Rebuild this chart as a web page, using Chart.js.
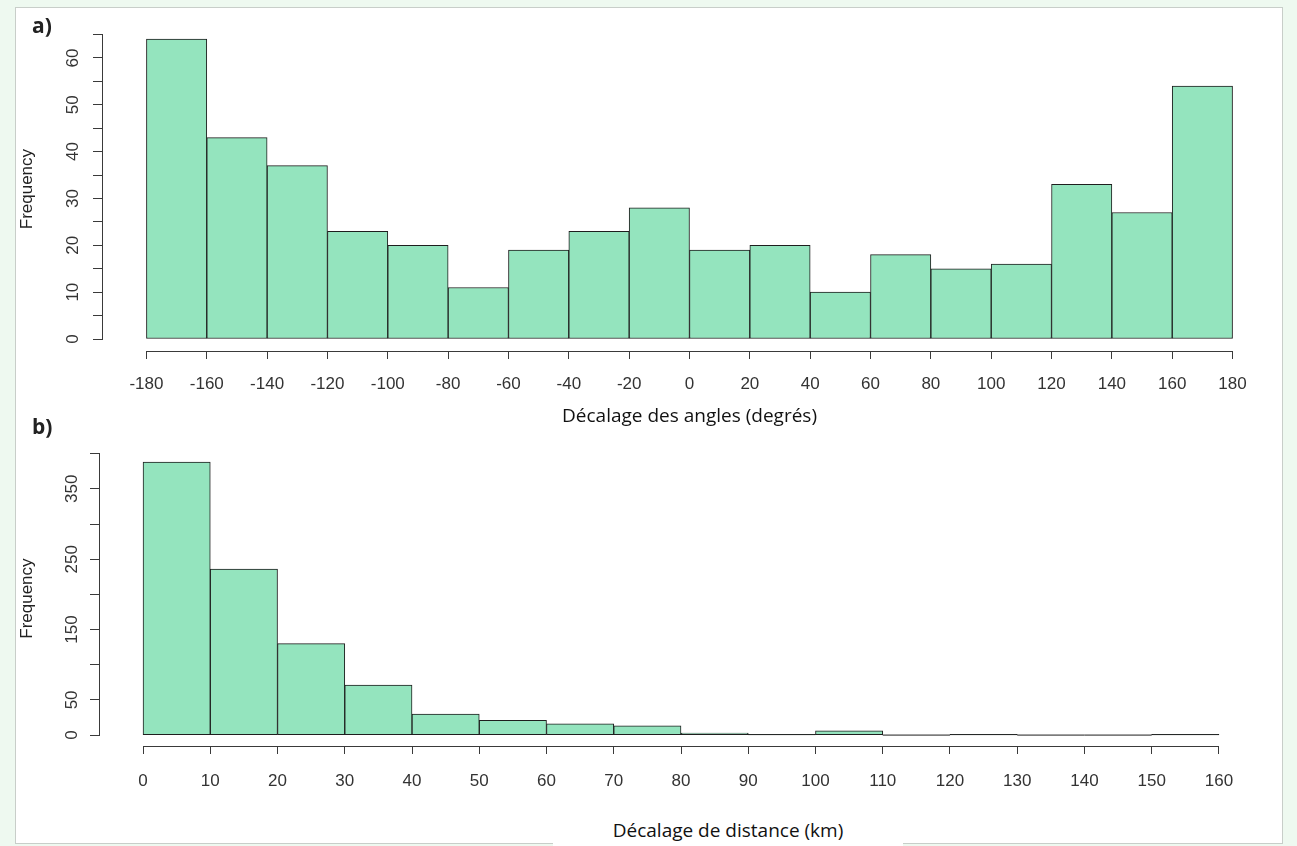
<!DOCTYPE html>
<html>
<head>
<meta charset="utf-8">
<script src="https://cdn.jsdelivr.net/npm/chart.js@4.4.1/dist/chart.umd.min.js"></script>
<style>
  body { margin: 0; background: #eef9f0; width: 1297px; height: 846px; overflow: hidden; position: relative; font-family: 'Liberation Sans', Arial, sans-serif; }
  #panel { position: absolute; left: 15px; top: 7px; width: 1266px; height: 835px; background: #fff; border: 1px solid #c8cec9; }
  .box { position: absolute; }
  .tag { position: absolute; font-family: 'Open Sans', sans-serif; font-weight: 700; font-size: 21px; color: #222; line-height: 1; }
  #xtitleB { position: absolute; left: 553px; top: 815px; width: 350px; height: 31px; background: #fff; text-align: center; font-family: 'Open Sans', sans-serif; font-size: 19px; line-height: 31px; color: #111; }
</style>
</head>
<body>
<div id="panel"></div>
<div class="box" style="left:15px; top:7px; width:1268px; height:430px;"><canvas id="histAngles"></canvas></div>
<div class="box" style="left:15px; top:437px; width:1268px; height:360px;"><canvas id="histDistance"></canvas></div>
<div class="tag" style="left:32px; top:15px;">a)</div>
<div class="tag" style="left:32px; top:416px;">b)</div>
<div id="xtitleB">Décalage de distance (km)</div>
<script>
// a) angle offset histogram
var angleBins = [-180, -160, -140, -120, -100, -80, -60, -40, -20, 0, 20, 40, 60, 80, 100, 120, 140, 160];
var angleCounts = [64, 43, 37, 23, 20, 11, 19, 23, 28, 19, 20, 10, 18, 15, 16, 33, 27, 54];
var angleXTicks = [-180, -160, -140, -120, -100, -80, -60, -40, -20, 0, 20, 40, 60, 80, 100, 120, 140, 160, 180];
var angleYTicks = [0, 5, 10, 15, 20, 25, 30, 35, 40, 45, 50, 55, 60, 65];
var angleYLabels = [0, 10, 20, 30, 40, 50, 60];

// b) distance offset histogram
var distBins = [0, 10, 20, 30, 40, 50, 60, 70, 80, 90, 100, 110, 120, 130, 140, 150];
var distCounts = [388, 236, 130, 71, 30, 21, 16, 13, 3, 1, 6, 0, 1, 0, 0, 1];
var distXTicks = [0, 10, 20, 30, 40, 50, 60, 70, 80, 90, 100, 110, 120, 130, 140, 150, 160];
var distYTicks = [0, 50, 100, 150, 200, 250, 300, 350, 400];
var distYLabels = [0, 50, 150, 250, 350];

var barFill = 'rgb(148, 228, 190)';
var barLine = '#1e1e1e';
var axisColor = '#3a3a3a';
var tickColor = '#333';

// R-style axes: lines only between the first and last tick, empty bins as a flat line
var rAxes = {
	id: 'rAxes',
	afterDatasetsDraw(chart) {
		let ctx = chart.ctx;
		let area = chart.chartArea;
		let x = chart.scales.x;
		let y = chart.scales.y;
		ctx.save();
		ctx.strokeStyle = axisColor;
		ctx.lineWidth = 1;
		ctx.beginPath();
		ctx.moveTo(x.getPixelForValue(x.ticks[0].value), Math.round(area.bottom) + 0.5);
		ctx.lineTo(x.getPixelForValue(x.ticks[x.ticks.length - 1].value), Math.round(area.bottom) + 0.5);
		ctx.moveTo(Math.round(area.left) - 0.5, y.getPixelForValue(y.ticks[0].value));
		ctx.lineTo(Math.round(area.left) - 0.5, y.getPixelForValue(y.ticks[y.ticks.length - 1].value));
		ctx.stroke();

		ctx.strokeStyle = barLine;
		chart.getDatasetMeta(0).data.forEach(function(bar) {
			if (Math.abs(bar.base - bar.y) < 1) {
				ctx.beginPath();
				ctx.moveTo(bar.x - bar.width / 2, bar.base);
				ctx.lineTo(bar.x + bar.width / 2, bar.base);
				ctx.stroke();
			}
		});
		ctx.restore();
	}
};

function histogram(canvasId, bins, counts, xTicks, yTicks, yLabels, layout) {
	let width = bins[1] - bins[0];
	let data = [];
	for (let i = 0; i < bins.length; i++) {
		data.push({x: bins[i] + width / 2, y: counts[i]});
	}
	let xLo = bins[0];
	let xHi = bins[bins.length - 1] + width;
	let yHi = Math.max.apply(null, counts);

	const config = {
		type: 'bar',
		data: {
			datasets: [{
				data: data,
				backgroundColor: barFill,
				borderColor: barLine,
				borderWidth: 1,
				borderSkipped: false,
				barPercentage: 1,
				categoryPercentage: 1
			}]
		},
		options: {
			animation: false,
			responsive: true,
			maintainAspectRatio: false,
			layout: {padding: layout.padding},
			plugins: {
				legend: {display: false},
				tooltip: {enabled: false}
			},
			scales: {
				x: {
					type: 'linear',
					offset: false,
					min: xLo - 0.04 * (xHi - xLo),
					max: xHi + 0.04 * (xHi - xLo),
					afterBuildTicks: function(scale) {
						scale.ticks = xTicks.map(v => ({value: v}));
					},
					afterFit: function(scale) {
						scale.height = layout.xHeight;
					},
					border: {display: false},
					grid: {offset: false, drawOnChartArea: false, drawTicks: true, tickLength: 8, color: axisColor},
					ticks: {
						autoSkip: false,
						maxRotation: 0,
						padding: layout.xPad,
						color: tickColor,
						font: {family: 'Liberation Sans', size: 17}
					},
					title: {
						display: !!layout.xTitle,
						text: layout.xTitle,
						color: '#111',
						font: {family: 'Open Sans', size: 19},
						padding: {top: 0, bottom: 9}
					}
				},
				y: {
					type: 'linear',
					min: -0.04 * yHi,
					max: yHi * 1.04,
					afterBuildTicks: function(scale) {
						scale.ticks = yTicks.map(v => ({value: v}));
					},
					afterFit: function(scale) {
						scale.width = layout.yWidth;
					},
					border: {display: false},
					grid: {offset: false, drawOnChartArea: false, drawTicks: true, tickLength: 10, color: axisColor},
					ticks: {
						autoSkip: false,
						minRotation: 90,
						maxRotation: 90,
						crossAlign: 'center',
						padding: layout.yPad,
						color: tickColor,
						font: {family: 'Liberation Sans', size: 17},
						callback: function(value) {
							return yLabels.includes(value) ? String(value) : '';
						}
					},
					title: {
						display: true,
						text: 'Frequency',
						color: '#222',
						font: {family: 'Liberation Sans', size: 17},
						padding: {top: 2, bottom: 0}
					}
				}
			}
		},
		plugins: [rAxes]
	};

	return new Chart(document.getElementById(canvasId), config);
}

var chartAngles = histogram('histAngles', angleBins, angleCounts, angleXTicks, angleYTicks, angleYLabels, {
	padding: {left: 0, right: 7, top: 16, bottom: 0},
	yWidth: 88,
	xHeight: 86,
	xPad: 15,
	yPad: 10,
	xTitle: 'Décalage des angles (degrés)'
});

var chartDistance = histogram('histDistance', distBins, distCounts, distXTicks, distYTicks, distYLabels, {
	padding: {left: 0, right: 21, top: 11, bottom: 0},
	yWidth: 85,
	xHeight: 51,
	xPad: 17,
	yPad: 4,
	xTitle: ''
});
</script>
</body>
</html>
